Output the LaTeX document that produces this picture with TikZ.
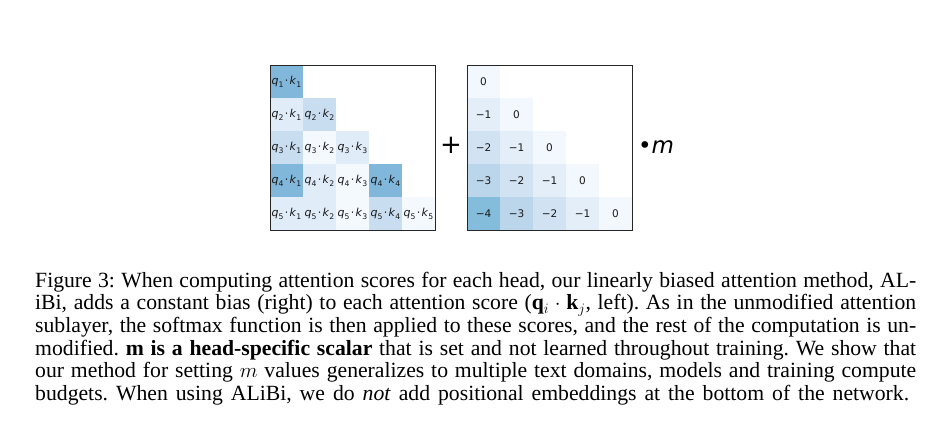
\documentclass[tikz,border=0pt]{standalone}
\usepackage{fontspec}
\setmainfont{Liberation Serif}
\newfontfamily\dejavu[ItalicFont={DejaVu Sans Oblique}]{DejaVu Sans}
\definecolor{Lmed}{HTML}{80B7DA}
\definecolor{Lltb}{HTML}{C9DDF0}
\definecolor{Llta}{HTML}{E0ECF8}
\definecolor{Lvl}{HTML}{F4F9FE}
\definecolor{Rz}{HTML}{F3F8FE}
\definecolor{Ra}{HTML}{E4EEF9}
\definecolor{Rb}{HTML}{D1E2F2}
\definecolor{Rc}{HTML}{BBD6EB}
\definecolor{Rd}{HTML}{84BCDB}
\newcommand\qkcell[2]{{\dejavu\fontsize{11}{11}\selectfont\textit{q}\raisebox{-0.25em}{\fontsize{7.7}{7.7}\selectfont #1}\hspace{0.12em}⋅\hspace{0.12em}\textit{k}\raisebox{-0.25em}{\fontsize{7.7}{7.7}\selectfont #2}}}
\tikzset{
  cell/.style={minimum size=33pt, inner sep=0pt, outer sep=0pt, draw=none, text=black!90},
  numcell/.style={cell, font=\dejavu\fontsize{10.5}{10.5}\selectfont},
  frame/.style={draw=black!85, line width=1pt, fill=none},
}
\begin{document}
\begin{tikzpicture}[x=1pt, y=-1pt]
\fill[white] (0,0) rectangle (936,421);
\useasboundingbox (0,0) rectangle (936,421);
% left matrix cells
\node[cell, fill=Lmed] (L11) at (286.5,81.5) {\qkcell{1}{1}};
\node[cell, fill=Llta] (L21) at (286.5,114.5) {\qkcell{2}{1}};
\node[cell, fill=Lltb] (L22) at (319.5,114.5) {\qkcell{2}{2}};
\node[cell, fill=Lltb] (L31) at (286.5,147.5) {\qkcell{3}{1}};
\node[cell, fill=Lvl] (L32) at (319.5,147.5) {\qkcell{3}{2}};
\node[cell, fill=Llta] (L33) at (352.5,147.5) {\qkcell{3}{3}};
\node[cell, fill=Lmed] (L41) at (286.5,180.5) {\qkcell{4}{1}};
\node[cell, fill=Llta] (L42) at (319.5,180.5) {\qkcell{4}{2}};
\node[cell, fill=Lvl] (L43) at (352.5,180.5) {\qkcell{4}{3}};
\node[cell, fill=Lmed] (L44) at (385.5,180.5) {\qkcell{4}{4}};
\node[cell, fill=Llta] (L51) at (286.5,213.5) {\qkcell{5}{1}};
\node[cell, fill=Llta] (L52) at (319.5,213.5) {\qkcell{5}{2}};
\node[cell, fill=Lvl] (L53) at (352.5,213.5) {\qkcell{5}{3}};
\node[cell, fill=Lltb] (L54) at (385.5,213.5) {\qkcell{5}{4}};
\node[cell, fill=Lvl] (L55) at (418.5,213.5) {\qkcell{5}{5}};
\draw[frame] (270,65) rectangle (435,230);
% plus
\node[inner sep=0pt, font=\dejavu\fontsize{26}{26}\selectfont] (plus) at (451,145) {+};
% right matrix cells
\node[numcell, fill=Rz] (R11) at (483.5,81.5) {0};
\node[numcell, fill=Ra] (R21) at (483.5,114.5) {−1};
\node[numcell, fill=Rz] (R22) at (516.5,114.5) {0};
\node[numcell, fill=Rb] (R31) at (483.5,147.5) {−2};
\node[numcell, fill=Ra] (R32) at (516.5,147.5) {−1};
\node[numcell, fill=Rz] (R33) at (549.5,147.5) {0};
\node[numcell, fill=Rc] (R41) at (483.5,180.5) {−3};
\node[numcell, fill=Rb] (R42) at (516.5,180.5) {−2};
\node[numcell, fill=Ra] (R43) at (549.5,180.5) {−1};
\node[numcell, fill=Rz] (R44) at (582.5,180.5) {0};
\node[numcell, fill=Rd] (R51) at (483.5,213.5) {−4};
\node[numcell, fill=Rc] (R52) at (516.5,213.5) {−3};
\node[numcell, fill=Rb] (R53) at (549.5,213.5) {−2};
\node[numcell, fill=Ra] (R54) at (582.5,213.5) {−1};
\node[numcell, fill=Rz] (R55) at (615.5,213.5) {0};
\draw[frame] (467,65) rectangle (632,230);
% scalar m
\node[inner sep=0pt, font=\dejavu\fontsize{23}{23}\selectfont] (mm) at (656,147) {•\textit{m}};
% caption
\node[anchor=north west, inner sep=0pt, text width=881pt, align=justify,
      font=\fontsize{21.7}{22.7}\selectfont\frenchspacing] (cap) at (35,271.1)
{\parfillskip=7pt\strut Figure 3: When computing attention scores for each head, our linearly biased attention method, AL-\linebreak
iBi, adds a constant bias (right) to each attention score ($\mathbf{q}_i\cdot\mathbf{k}_j$, left). As in the unmodified attention\linebreak
sublayer, the softmax function is then applied to these scores, and the rest of the computation is un-\linebreak
modified. \textbf{m is a head-specific scalar} that is set and not learned throughout training. We show that\linebreak
our method for setting $m$ values generalizes to multiple text domains, models and training compute\linebreak
budgets. When using ALiBi, we do \textit{not} add positional embeddings at the bottom of the network.\par};
\end{tikzpicture}
\end{document}
